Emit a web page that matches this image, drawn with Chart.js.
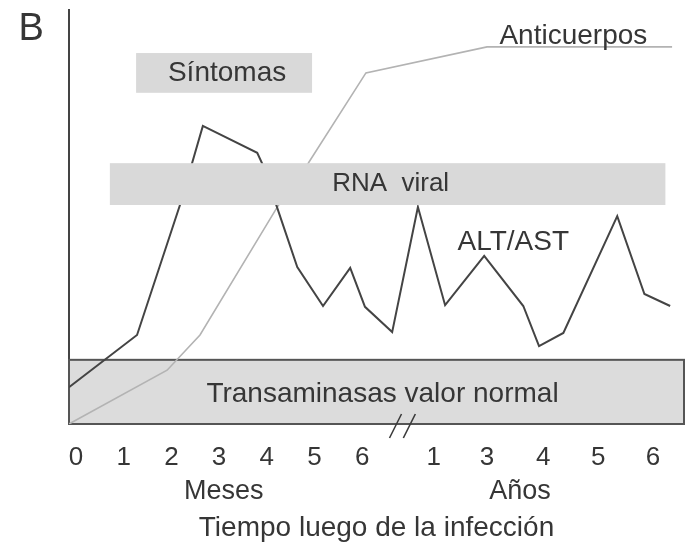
<!DOCTYPE html>
<html>
<head>
<meta charset="utf-8">
<script src="https://cdn.jsdelivr.net/npm/chart.js@4/dist/chart.umd.min.js"></script>
<style>
  html, body { margin: 0; padding: 0; background: #ffffff; }
  #wrap { width: 692px; height: 545px; }
</style>
</head>
<body>
<div id="wrap"><canvas id="c" width="692" height="545"></canvas></div>
<script>
// ---- data (schematic units: x = position along time axis, y = relative level) ----
const tickPositions = [0, 1, 2, 3, 4, 5, 6, 7.5, 8.62, 9.8, 10.95, 12.1];
const tickLabels    = ['0', '1', '2', '3', '4', '5', '6', '1', '3', '4', '5', '6'];
const groupLabels   = ['Meses', 'Años'];
const groupCenters  = [3.1, 9.31];
const axisTitle     = 'Tiempo luego de la infección';

const altX = [-0.147, 1.28, 2.18, 2.66, 3.80, 3.90, 4.22, 4.64, 5.18, 5.75, 6.06, 6.63, 7.17, 7.74, 8.56, 9.38, 9.71, 10.22, 11.35, 11.92, 12.46];
const altY = [8.9, 21.5, 52.9, 72.0, 65.5, 63.0, 52.2, 37.9, 28.5, 37.7, 28.3, 22.2, 52.4, 28.7, 40.6, 28.5, 18.8, 22.0, 50.2, 31.4, 28.5];

const antiX = [-0.147, 1.91, 2.60, 4.22, 4.87, 6.08, 8.62, 12.50];
const antiY = [0, 13.0, 21.5, 52.4, 63.0, 84.8, 91.1, 91.1];

const boxLabels = ['Síntomas', 'RNA  viral', 'Transaminasas valor normal'];
const boxX0 = [1.26, 0.71, -0.147];
const boxX1 = [4.95, 12.36, 12.75];
const boxY0 = [80.0, 52.9, 0];
const boxY1 = [89.6, 63.0, 15.5];

const seriesLabels = ['ALT/AST', 'Anticuerpos'];
const seriesLabelX = [9.17, 10.43];
const seriesLabelY = [44.0, 93.7];

const panelLabel = 'B';

// ---- styling ----
const FONT = '"Liberation Sans", Arial, Helvetica, sans-serif';
const TEXT = '#363636';
Chart.defaults.font.family = FONT;
Chart.defaults.color = TEXT;

const toPts = (xs, ys) => xs.map((x, i) => ({ x: x, y: ys[i] }));

const decor = {
  id: 'decor',
  beforeDatasetsDraw(chart) {
    const { ctx, scales: { x, y } } = chart;
    ctx.save();
    // normal range box (behind lines)
    const i = 2;
    const l = x.getPixelForValue(boxX0[i]), r = x.getPixelForValue(boxX1[i]);
    const t = y.getPixelForValue(boxY1[i]), b = y.getPixelForValue(boxY0[i]);
    ctx.fillStyle = '#dcdcdc';
    ctx.fillRect(l, t, r - l, b - t);
    ctx.strokeStyle = '#555555';
    ctx.lineWidth = 2;
    ctx.strokeRect(l, t, r - l, b - t);
    // symptoms box
    const j = 0;
    const l2 = x.getPixelForValue(boxX0[j]), r2 = x.getPixelForValue(boxX1[j]);
    const t2 = y.getPixelForValue(boxY1[j]), b2 = y.getPixelForValue(boxY0[j]);
    ctx.fillStyle = '#d9d9d9';
    ctx.fillRect(l2, t2, r2 - l2, b2 - t2);
    ctx.restore();
  },
  afterDatasetsDraw(chart) {
    const { ctx, scales: { x, y } } = chart;
    ctx.save();
    // viral RNA bar (over lines)
    const k = 1;
    const l = x.getPixelForValue(boxX0[k]), r = x.getPixelForValue(boxX1[k]);
    const t = y.getPixelForValue(boxY1[k]), b = y.getPixelForValue(boxY0[k]);
    ctx.fillStyle = '#d9d9d9';
    ctx.fillRect(l, t, r - l, b - t);

    ctx.fillStyle = TEXT;
    ctx.textAlign = 'center';
    ctx.textBaseline = 'middle';
    const sizes = [28, 26, 28];
    boxLabels.forEach((lab, n) => {
      const cx = (x.getPixelForValue(boxX0[n]) + x.getPixelForValue(boxX1[n])) / 2 + (n === 2 ? 6 : 3);
      const cy = (y.getPixelForValue(boxY0[n]) + y.getPixelForValue(boxY1[n])) / 2 + (n === 2 ? 2 : 0);
      ctx.font = sizes[n] + 'px ' + FONT;
      ctx.fillText(lab, cx, cy);
    });
    ctx.font = '28px ' + FONT;
    seriesLabels.forEach((lab, n) => {
      ctx.fillText(lab, x.getPixelForValue(seriesLabelX[n]), y.getPixelForValue(seriesLabelY[n]));
    });
    // group labels under ticks
    ctx.font = '27px ' + FONT;
    groupLabels.forEach((lab, n) => {
      ctx.fillText(lab, x.getPixelForValue(groupCenters[n]), y.getPixelForValue(-16.4));
    });
    // panel letter
    ctx.font = '38px ' + FONT;
    ctx.fillText(panelLabel, x.getPixelForValue(-0.94), y.getPixelForValue(95.2));
    // axis break marks
    ctx.strokeStyle = '#3a3a3a';
    ctx.lineWidth = 1.6;
    [6.70, 6.99].forEach(v => {
      const px = x.getPixelForValue(v), py = y.getPixelForValue(0) + 2;
      ctx.beginPath();
      ctx.moveTo(px - 6, py + 12);
      ctx.lineTo(px + 6, py - 12);
      ctx.stroke();
    });
    ctx.restore();
  }
};

new Chart(document.getElementById('c'), {
  type: 'line',
  data: {
    datasets: [
      {
        label: seriesLabels[0],
        data: toPts(altX, altY),
        borderColor: '#444444',
        borderWidth: 2,
        pointRadius: 0,
        tension: 0,
        fill: false
      },
      {
        label: seriesLabels[1],
        data: toPts(antiX, antiY),
        borderColor: '#b3b3b3',
        borderWidth: 1.6,
        pointRadius: 0,
        tension: 0,
        fill: false
      }
    ]
  },
  options: {
    responsive: false,
    animation: false,
    events: [],
    layout: { padding: { left: 69, right: 8, top: 10, bottom: 0 } },
    plugins: { legend: { display: false }, tooltip: { enabled: false }, title: { display: false } },
    scales: {
      x: {
        type: 'linear',
        min: -0.147,
        max: 12.75,
        grid: { display: false, drawTicks: false },
        border: { display: false },
        afterBuildTicks: s => { s.ticks = tickPositions.map(v => ({ value: v })); },
        afterFit: s => { s.height = 121; },
        ticks: {
          autoSkip: false,
          maxRotation: 0,
          padding: 18,
          color: TEXT,
          font: { size: 26 },
          callback: (v, i) => tickLabels[i]
        },
        title: {
          display: true,
          text: axisTitle,
          color: TEXT,
          font: { size: 28 },
          padding: { top: 0, bottom: 0 }
        }
      },
      y: {
        type: 'linear',
        min: 0,
        max: 100,
        grid: { display: false, drawTicks: false },
        border: { display: true, color: '#444444', width: 2 },
        ticks: { display: false },
        afterFit: s => { s.width = 0; }
      }
    }
  },
  plugins: [decor]
});
</script>
</body>
</html>
